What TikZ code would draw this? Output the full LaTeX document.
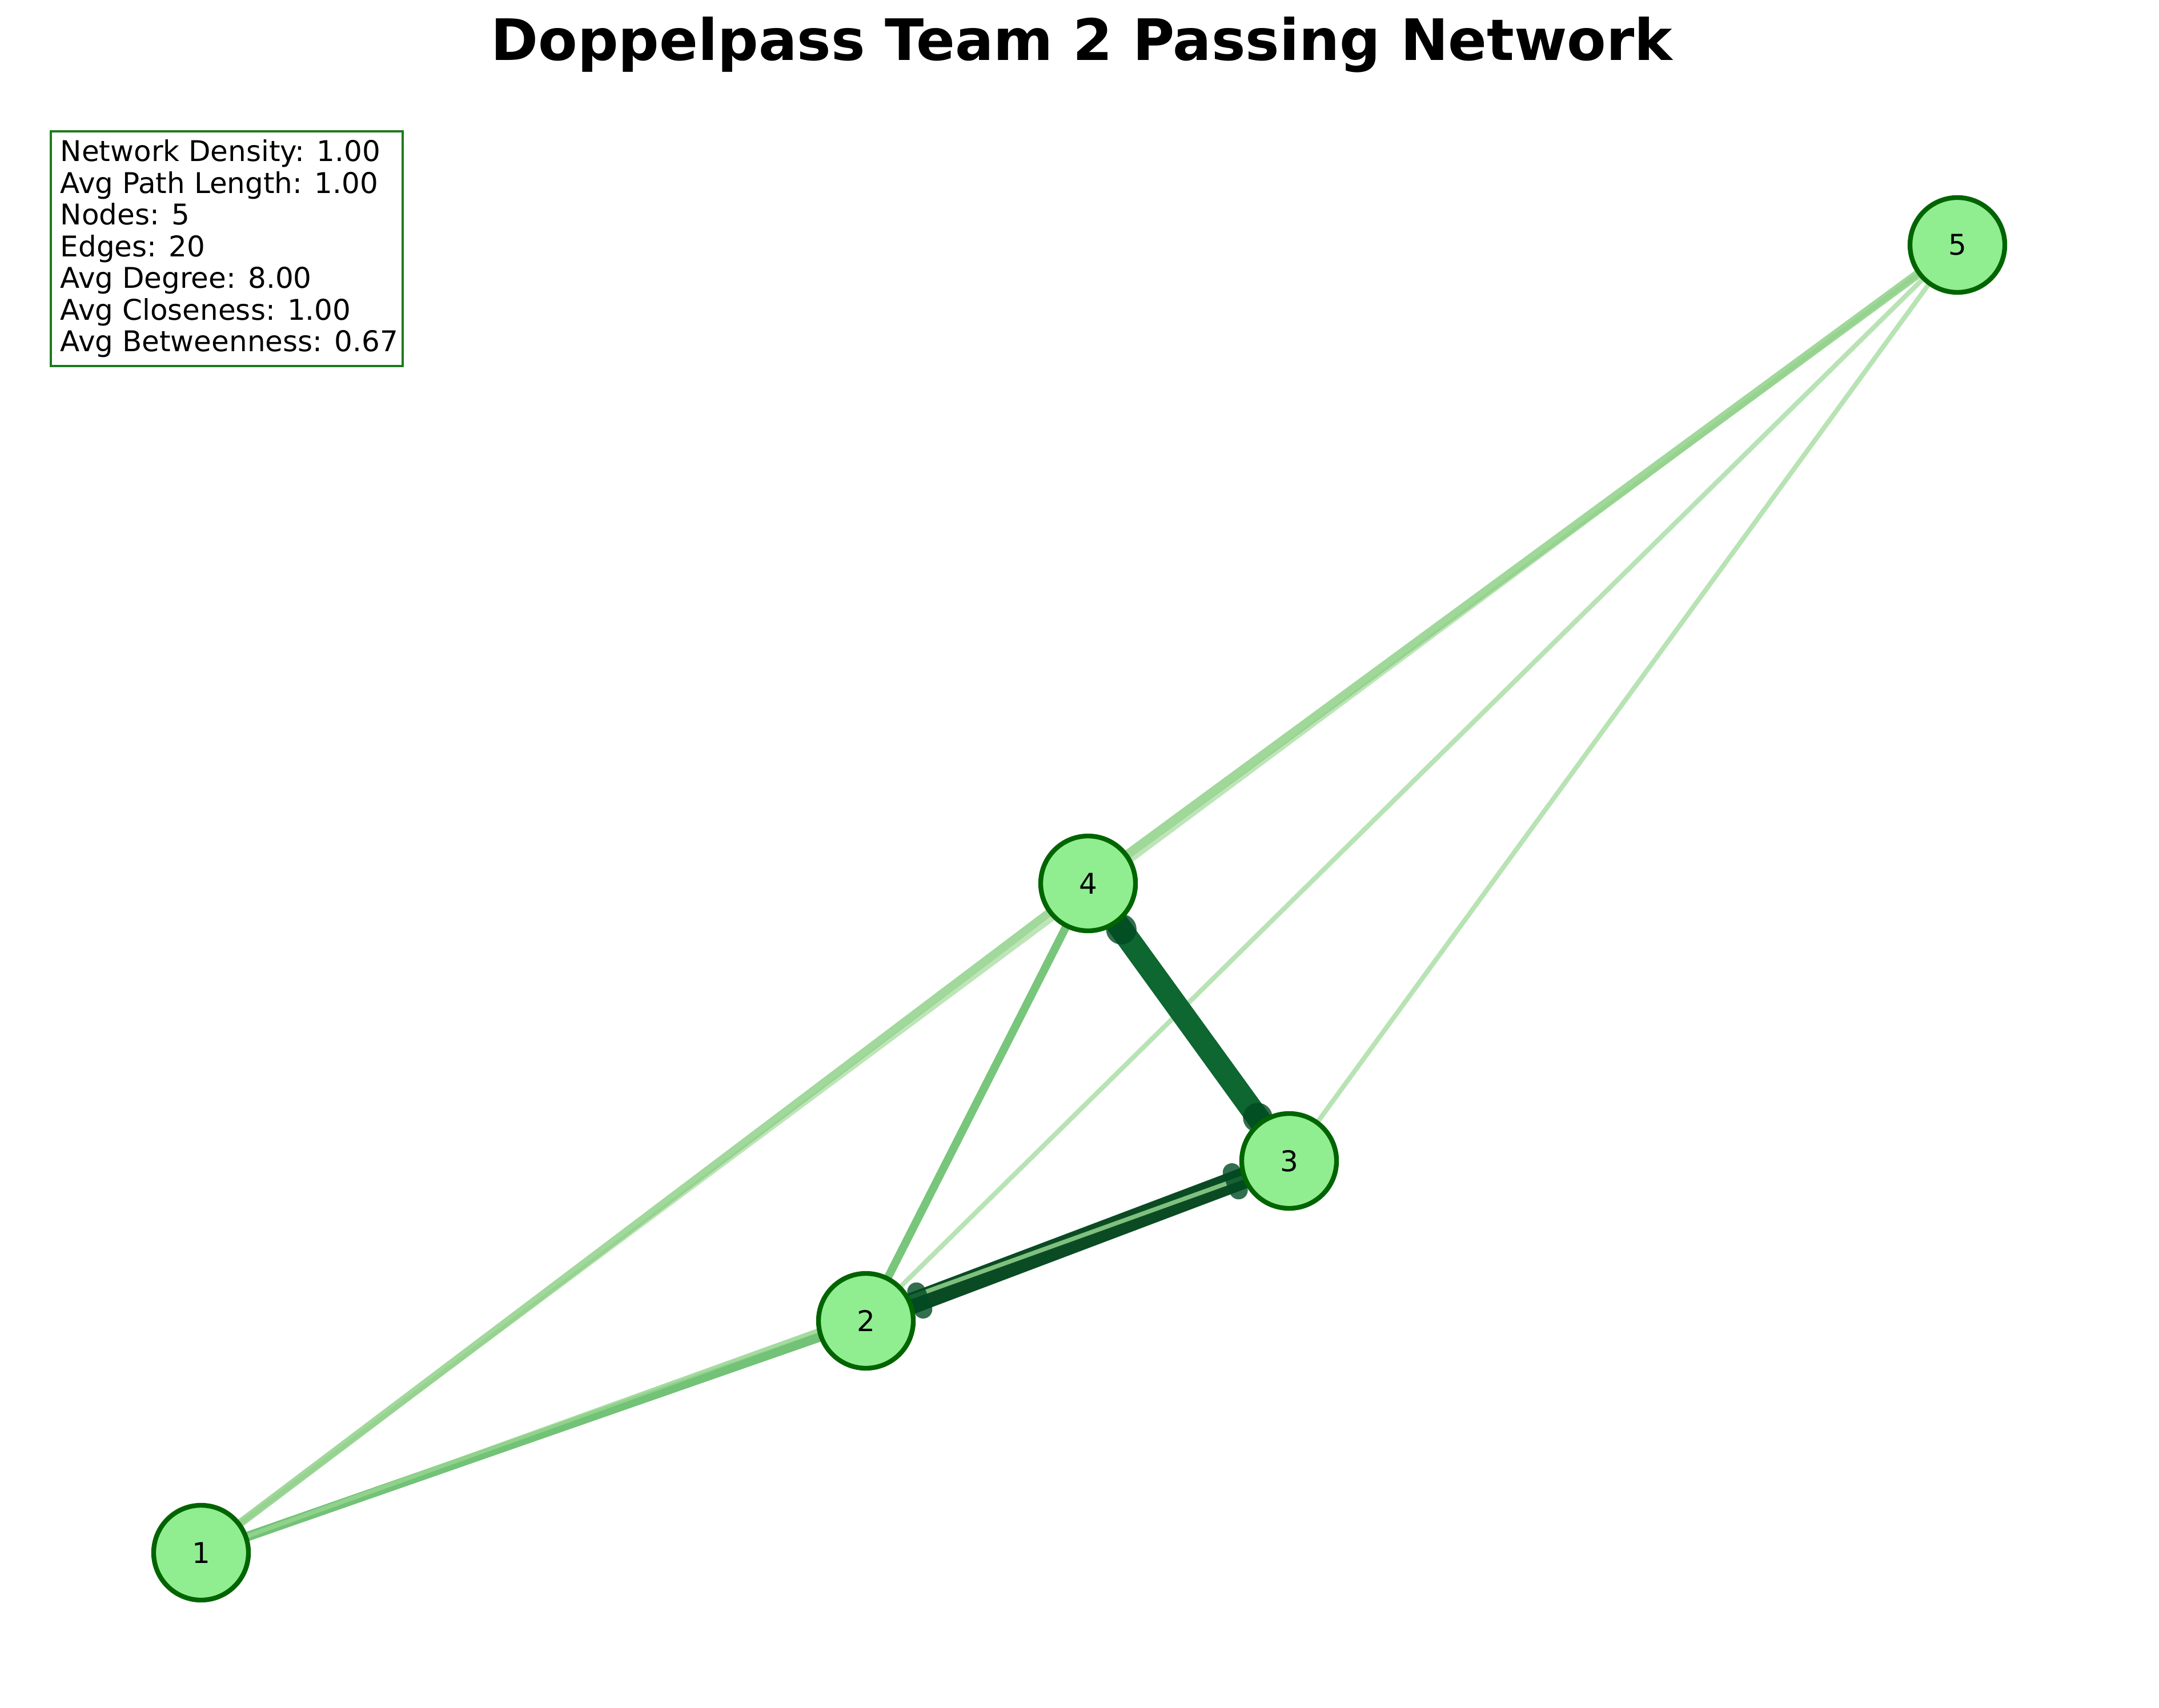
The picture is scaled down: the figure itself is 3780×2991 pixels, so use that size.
\documentclass[tikz,border=0pt]{standalone}
\usepackage{fontspec}
\setmainfont{DejaVu Sans}
\usetikzlibrary{calc}
\pgfdeclarelayer{bg}
\pgfsetlayers{bg,main}
\definecolor{nodefill}{HTML}{90EE90}
\definecolor{nodeline}{HTML}{006400}
\definecolor{boxgreen}{RGB}{30,122,30}
\definecolor{cA}{HTML}{59B75F}
\definecolor{cB}{HTML}{95D58F}
\definecolor{cC}{HTML}{90D189}
\definecolor{cD}{HTML}{B1E0AA}
\definecolor{cE}{HTML}{8FD188}
\definecolor{cF}{HTML}{60BC64}
\definecolor{cG}{HTML}{ACDEA7}
\definecolor{cH}{HTML}{0E6630}
\definecolor{cI}{HTML}{0B4B24}
\definecolor{cBlob}{HTML}{004A22}
\tikzset{
  player/.style={circle, draw=nodeline, fill=nodefill, line width=2pt,
    minimum size=39.84pt, inner sep=0pt, font=\fontsize{12}{14}\selectfont},
  lightedge/.style={draw=#1, draw opacity=0.85, line cap=butt},
  darkedge/.style={draw=#1, line cap=butt},
  blobdot/.style={fill=cBlob, fill opacity=0.8},
  blobbar/.style={draw=cBlob, draw opacity=0.8, line cap=round, line width=7.7pt},
  statline/.style={anchor=base west, inner sep=0pt, font=\fontsize{12}{14}\selectfont},
  statbox/.style={draw=boxgreen, line width=1pt, fill=white, inner sep=0pt,
    minimum width=147.8pt, minimum height=98.6pt},
  titletext/.style={anchor=base, inner sep=0pt, font=\fontsize{24}{29}\selectfont\bfseries}
}
\begin{document}
\begin{tikzpicture}[x=0.24pt,y=-0.24pt]
\useasboundingbox (0,0) rectangle (3780,2991);

% players
\node[player] (n1) at (352,2719) {1};
\node[player] (n2) at (1516,2313) {2};
\node[player] (n3) at (2257,2033) {3};
\node[player] (n4) at (1905,1547) {4};
\node[player] (n5) at (3427,429) {5};

\begin{pgfonlayer}{bg}
  % light passes
  \draw[lightedge=cD, line width=1.9pt] (n1.center) -- (n5.center);
  \draw[lightedge=cG, line width=2pt] (n2.center) -- (n5.center);
  \draw[lightedge=cG, line width=2pt] (n3.center) -- (n5.center);
  \draw[lightedge=cE, line width=3.8pt] (n4.center) -- (n5.center);
  \draw[lightedge=cC, line width=3.5pt] (n1.center) -- (n4.center);
  \draw[lightedge=cF, line width=3.4pt] (n2.center) -- (n4.center);
  \draw[lightedge=cA, line width=4pt] (n1.center) -- (n2.center);
  % heavy passes
  \draw[darkedge=cH, line width=9.6pt] (n3.center) -- (n4.center);
  \draw[darkedge=cI, line width=8.9pt] (n2.center) -- (n3.center);
  % 1-3 over the top
  \draw[lightedge=cB, line width=1.8pt] (n1.center) -- (n3.center);
  % arrow heads of the heavy passes
  \fill[blobdot] ($(n4.center)!23.8pt!(n3.center)$) circle[radius=6.4pt];
  \fill[blobdot] ($(n3.center)!22.5pt!(n4.center)$) circle[radius=6.2pt];
  \coordinate (h2) at ($(n2.center)!24.2pt!(n3.center)$);
  \coordinate (h3) at ($(n3.center)!24.2pt!(n2.center)$);
  \draw[blobbar] ($(h2)!4pt!90:(n3.center)$) -- ($(h2)!4pt!-90:(n3.center)$);
  \draw[blobbar] ($(h3)!4pt!90:(n2.center)$) -- ($(h3)!4pt!-90:(n2.center)$);
\end{pgfonlayer}

% title
\node[titletext] (title) at (1894,106) {Doppelpass Team 2 Passing Network};

% statistics box
\node[statbox] (box) at (397,435.5) {};
\node[statline] (s1) at (105,283) {Network Density: 1.00};
\node[statline] (s2) at (105,338.5) {Avg Path Length: 1.00};
\node[statline] (s3) at (105,394) {Nodes: 5};
\node[statline] (s4) at (105,449.5) {Edges: 20};
\node[statline] (s5) at (105,505) {Avg Degree: 8.00};
\node[statline] (s6) at (105,560.5) {Avg Closeness: 1.00};
\node[statline] (s7) at (105,616) {Avg Betweenness: 0.67};
\end{tikzpicture}
\end{document}
